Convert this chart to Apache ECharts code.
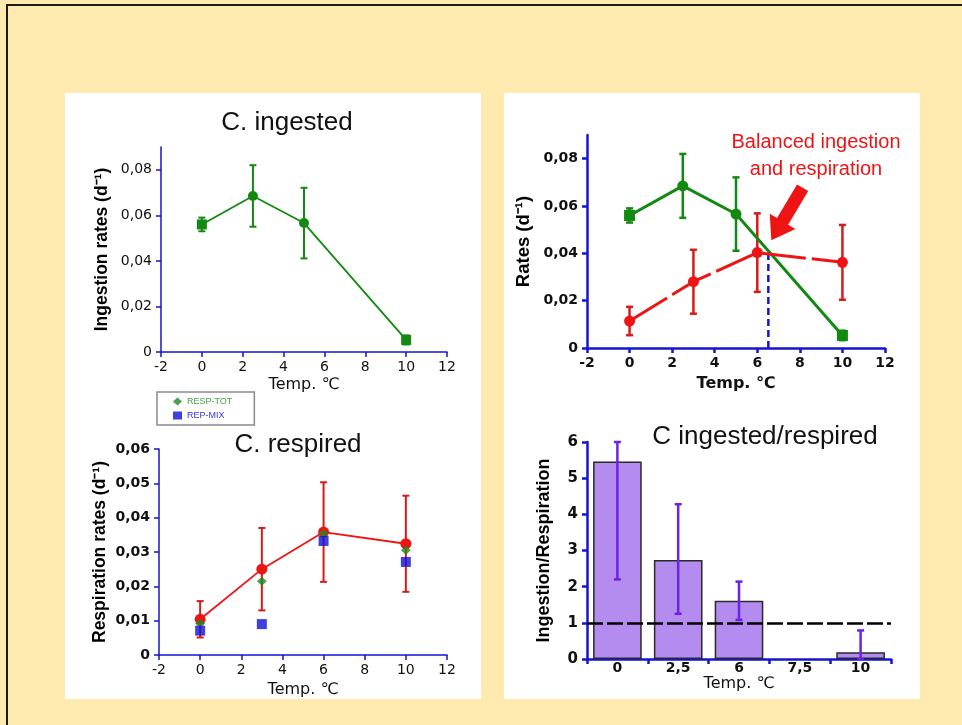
<!DOCTYPE html>
<html>
<head>
<meta charset="utf-8">
<script src="https://cdn.jsdelivr.net/npm/echarts@6/dist/echarts.min.js"></script>
<style>html,body{margin:0;padding:0;background:#FFEAB0;}#c{width:962px;height:725px;}</style>
</head>
<body>
<div id="c"></div>
<script>
// ---------- data ----------
const ingestTemp = [0, 2.5, 5, 10];
const ingestRate = [0.056, 0.0685, 0.0566, 0.0053];
const ingestErr  = [0.003, 0.0135, 0.0155, 0.002];

const respTempB = [0, 3, 6, 10];               // panel "Rates"
const respRateB = [0.0114, 0.028, 0.0403, 0.0362];
const respErrB  = [0.006, 0.0135, 0.0166, 0.0158];

const respTemp  = [0, 3, 6, 10];               // panel "C. respired"
const respRate  = [0.0104, 0.025, 0.0358, 0.0324];
const respErr   = [0.0053, 0.012, 0.0145, 0.014];
const respTot   = [0.0092, 0.0215, 0.0353, 0.0305];
const respMix   = [0.0071, 0.009, 0.0332, 0.0271];

const balanceX = 6.52;
const balanceY = 0.0401;
const arrowFrom = [8.13, 0.0677];
const arrowTo   = [6.66, 0.0455];

const ratioCats = ['0', '2,5', '6', '7,5', '10'];
const ratioVal  = [5.46, 2.74, 1.61, null, 0.185];
const ratioLow  = [2.2, 1.25, 1.08, null, 0];
const ratioHigh = [6.0, 4.28, 2.14, null, 0.79];

const tempTicks = [-2, 0, 2, 4, 6, 8, 10, 12];
const rateTicks = [0, 0.02, 0.04, 0.06, 0.08];
const respTicks = [0, 0.01, 0.02, 0.03, 0.04, 0.05, 0.06];
// ---------- styles ----------
const BLUE = '#1414d2', GREEN = '#128a12', RED = '#ee1414', DRED = '#d41c1c', PURPLE = '#6c22e4';
const fmtComma = v => v === 0 ? '0' : v.toFixed(2).replace('.', ',');

function errSeries(grid, xs, lows, highs, color, lw) {
  const data = xs.map((x, i) => [x, lows[i], highs[i]]).filter(d => d[1] != null);
  return {
    type: 'custom', xAxisIndex: grid, yAxisIndex: grid, data: data, z: 3, silent: true, clip: false,
    renderItem: function (params, api) {
      const a = api.coord([api.value(0), api.value(1)]);
      const b = api.coord([api.value(0), api.value(2)]);
      const s = { stroke: color, lineWidth: lw };
      const c = 3.5;
      return { type: 'group', children: [
        { type: 'line', shape: { x1: a[0], y1: a[1], x2: b[0], y2: b[1] }, style: s },
        { type: 'line', shape: { x1: a[0] - c, y1: a[1], x2: a[0] + c, y2: a[1] }, style: s },
        { type: 'line', shape: { x1: b[0] - c, y1: b[1], x2: b[0] + c, y2: b[1] }, style: s }
      ]};
    }
  };
}
function pairs(xs, ys) { return xs.map((x, i) => [x, ys[i]]); }

function valueX(grid, lw, bold, gap) {
  return {
    gridIndex: grid, type: 'value', min: -2, max: 12, interval: 2,
    axisLine: { show: true, onZero: false, lineStyle: { color: BLUE, width: lw } },
    axisTick: { show: true, length: 5, lineStyle: { color: BLUE, width: lw } },
    axisLabel: { color: '#111', fontSize: 14, fontFamily: 'DejaVu Sans', fontWeight: bold ? 'bold' : 'normal', margin: 8, customValues: tempTicks },
    splitLine: { show: false },
    name: 'Temp. ℃', nameLocation: 'middle', nameGap: gap,
    nameTextStyle: { color: '#111', fontSize: 16, fontFamily: 'DejaVu Sans', fontWeight: bold ? 'bold' : 'normal' }
  };
}
function valueY(grid, max, interval, ticks, lw, bold, name, nameSize, gap) {
  return {
    gridIndex: grid, type: 'value', min: 0, max: max, interval: interval,
    axisLine: { show: true, onZero: false, lineStyle: { color: BLUE, width: lw } },
    axisTick: { show: true, length: 5, lineStyle: { color: BLUE, width: lw }, customValues: ticks },
    axisLabel: { color: '#111', fontSize: 14, fontFamily: 'DejaVu Sans', fontWeight: bold ? 'bold' : 'normal', margin: 9, formatter: fmtComma, customValues: ticks },
    splitLine: { show: false },
    name: name, nameLocation: 'middle', nameGap: gap,
    nameTextStyle: { color: '#000', fontSize: nameSize, fontFamily: 'Liberation Sans', fontWeight: 'bold' }
  };
}

const chart = echarts.init(document.getElementById('c'), null, { renderer: 'canvas' });
const option = {
  backgroundColor: '#FFEAB0',
  animation: false,
  graphic: [
    { type: 'rect', z: -100, shape: { x: 7, y: 5, width: 1000, height: 1000 }, style: { fill: 'none', stroke: '#1a1a1a', lineWidth: 2 } },
    { type: 'rect', z: -100, shape: { x: 65, y: 93, width: 416, height: 606 }, style: { fill: '#fff' } },
    { type: 'rect', z: -100, shape: { x: 504, y: 93, width: 416, height: 606 }, style: { fill: '#fff' } },
    { type: 'text', z: 10, x: 287, y: 123, style: { text: 'C. ingested', fill: '#111', font: '26px "Liberation Sans"', textAlign: 'center', textVerticalAlign: 'middle' } },
    { type: 'text', z: 10, x: 298, y: 445, style: { text: 'C. respired', fill: '#111', font: '26px "Liberation Sans"', textAlign: 'center', textVerticalAlign: 'middle' } },
    { type: 'text', z: 10, x: 765, y: 437, style: { text: 'C ingested/respired', fill: '#111', font: '26px "Liberation Sans"', textAlign: 'center', textVerticalAlign: 'middle' } },
    { type: 'text', z: 10, x: 816, y: 156, style: { text: 'Balanced ingestion\nand respiration', fill: RED, font: '20px "Liberation Sans"', lineHeight: 27, textAlign: 'center', textVerticalAlign: 'middle' } }
  ],
  legend: {
    left: 157, top: 392, orient: 'vertical', itemGap: 5, itemWidth: 9, itemHeight: 8,
    padding: [5, 22, 5, 16], borderColor: '#8a8a8a', borderWidth: 1.5, backgroundColor: '#fff',
    textStyle: { fontSize: 9, fontFamily: 'Liberation Sans' },
    data: [
      { name: 'RESP-TOT', icon: 'diamond', textStyle: { color: '#49a049' } },
      { name: 'REP-MIX', icon: 'rect', textStyle: { color: '#3434d8' } }
    ]
  },
  grid: [
    { left: 161, top: 147, width: 286, height: 205 },
    { left: 587, top: 135, width: 298, height: 213 },
    { left: 159, top: 449, width: 288, height: 206 },
    { left: 587, top: 442, width: 304, height: 217 }
  ],
  xAxis: [
    valueX(0, 1.5, false, 25),
    valueX(1, 2.5, true, 28),
    valueX(2, 1.5, false, 27),
    {
      gridIndex: 3, type: 'category', data: ratioCats,
      axisLine: { show: true, lineStyle: { color: BLUE, width: 2.5 } },
      axisTick: { show: true, length: 5, lineStyle: { color: BLUE, width: 2.5 } },
      axisLabel: { color: '#111', fontSize: 14, fontFamily: 'DejaVu Sans', fontWeight: 'bold', margin: 2 },
      name: 'Temp. ℃', nameLocation: 'middle', nameGap: 17,
      nameTextStyle: { color: '#111', fontSize: 16, fontFamily: 'DejaVu Sans' }
    }
  ],
  yAxis: [
    valueY(0, 0.09, 0.02, rateTicks, 1.5, false, 'Ingestion rates (d⁻¹)', 17.5, 50),
    valueY(1, 0.09, 0.02, rateTicks, 2.5, true, 'Rates (d⁻¹)', 18.5, 54),
    valueY(2, 0.06, 0.01, respTicks, 1.5, true, 'Respiration rates (d⁻¹)', 17.5, 50),
    {
      gridIndex: 3, type: 'value', min: 0, max: 6, interval: 1,
      axisLine: { show: true, onZero: false, lineStyle: { color: BLUE, width: 2.5 } },
      axisTick: { show: true, length: 5, lineStyle: { color: BLUE, width: 2.5 } },
      axisLabel: { color: '#111', fontSize: 15, fontFamily: 'DejaVu Sans', fontWeight: 'bold', margin: 9 },
      splitLine: { show: false },
      name: 'Ingestion/Respiration', nameLocation: 'middle', nameGap: 34,
      nameTextStyle: { color: '#000', fontSize: 18, fontFamily: 'Liberation Sans', fontWeight: 'bold' }
    }
  ],
  series: [
    // panel 1
    {
      type: 'line', name: 'ingested', xAxisIndex: 0, yAxisIndex: 0,
      data: pairs(ingestTemp, ingestRate).map((d, i) => ({ value: d, symbol: (i === 0 || i === 3) ? 'rect' : 'circle' })),
      symbolSize: 10, lineStyle: { color: GREEN, width: 1.8 }, itemStyle: { color: GREEN }, z: 4
    },
    errSeries(0, ingestTemp, ingestRate.map((v, i) => v - ingestErr[i]), ingestRate.map((v, i) => v + ingestErr[i]), GREEN, 2),
    // panel 2
    errSeries(1, ingestTemp, ingestRate.map((v, i) => v - ingestErr[i]), ingestRate.map((v, i) => v + ingestErr[i]), GREEN, 2.5),
    errSeries(1, respTempB, respRateB.map((v, i) => v - respErrB[i]), respRateB.map((v, i) => v + respErrB[i]), DRED, 2.5),
    {
      type: 'line', name: 'ingestedB', xAxisIndex: 1, yAxisIndex: 1,
      data: pairs(ingestTemp, ingestRate).map((d, i) => ({ value: d, symbol: (i === 0 || i === 3) ? 'rect' : 'circle' })),
      symbolSize: 11, lineStyle: { color: GREEN, width: 3 }, itemStyle: { color: GREEN }, z: 4
    },
    {
      type: 'line', name: 'respiredB', xAxisIndex: 1, yAxisIndex: 1,
      data: pairs(respTempB, respRateB), symbol: 'circle',
      symbolSize: 11, lineStyle: { color: RED, width: 3, type: [44, 6] }, itemStyle: { color: RED }, z: 4
    },
    {
      type: 'line', name: 'balance', xAxisIndex: 1, yAxisIndex: 1,
      data: [[balanceX, 0], [balanceX, balanceY]], symbol: 'none',
      lineStyle: { color: BLUE, width: 2.5, type: [7, 4] }, z: 3
    },
    {
      type: 'custom', name: 'arrow', xAxisIndex: 1, yAxisIndex: 1, z: 6, silent: true, clip: false,
      data: [[arrowFrom[0], arrowFrom[1], arrowTo[0], arrowTo[1]]],
      renderItem: function (params, api) {
        const a = api.coord([api.value(0), api.value(1)]);
        const b = api.coord([api.value(2), api.value(3)]);
        const dx = b[0] - a[0], dy = b[1] - a[1], L = Math.sqrt(dx * dx + dy * dy);
        const ux = dx / L, uy = dy / L, nx = -uy, ny = ux;
        const hl = 22, sw = 6.5, hw = 15;
        const bx = b[0] - ux * hl, by = b[1] - uy * hl;
        const pts = [
          [a[0] + nx * sw, a[1] + ny * sw], [bx + nx * sw, by + ny * sw], [bx + nx * hw, by + ny * hw],
          [b[0], b[1]],
          [bx - nx * hw, by - ny * hw], [bx - nx * sw, by - ny * sw], [a[0] - nx * sw, a[1] - ny * sw]
        ];
        return { type: 'polygon', shape: { points: pts }, style: { fill: RED } };
      }
    },
    // panel 3
    errSeries(2, respTemp, respRate.map((v, i) => v - respErr[i]), respRate.map((v, i) => v + respErr[i]), DRED, 2),
    {
      type: 'line', name: 'respired', xAxisIndex: 2, yAxisIndex: 2,
      data: pairs(respTemp, respRate), symbol: 'circle', symbolSize: 11,
      lineStyle: { color: RED, width: 1.8 }, itemStyle: { color: RED }, z: 4
    },
    {
      type: 'scatter', name: 'RESP-TOT', xAxisIndex: 2, yAxisIndex: 2,
      data: pairs(respTemp, respTot), symbol: 'diamond', symbolSize: [10, 9],
      itemStyle: { color: '#1f8a1f' }, z: 5
    },
    {
      type: 'scatter', name: 'REP-MIX', xAxisIndex: 2, yAxisIndex: 2,
      data: pairs(respTemp, respMix), symbol: 'rect', symbolSize: 10,
      itemStyle: { color: '#1010d8' }, z: 6
    },
    // panel 4
    {
      type: 'bar', name: 'ratio', xAxisIndex: 3, yAxisIndex: 3,
      data: ratioVal, barWidth: '80%',
      itemStyle: { color: '#b48cf0', borderColor: '#2a2a2a', borderWidth: 1.5 },
      markLine: {
        silent: true, symbol: 'none', label: { show: false },
        lineStyle: { color: '#000', width: 2.5, type: [16, 4] },
        data: [{ yAxis: 1 }]
      }, z: 2
    },
    errSeries(3, ratioCats.map((c, i) => i), ratioLow, ratioHigh, PURPLE, 2.5)
  ]
};
chart.setOption(option);
</script>
</body>
</html>
